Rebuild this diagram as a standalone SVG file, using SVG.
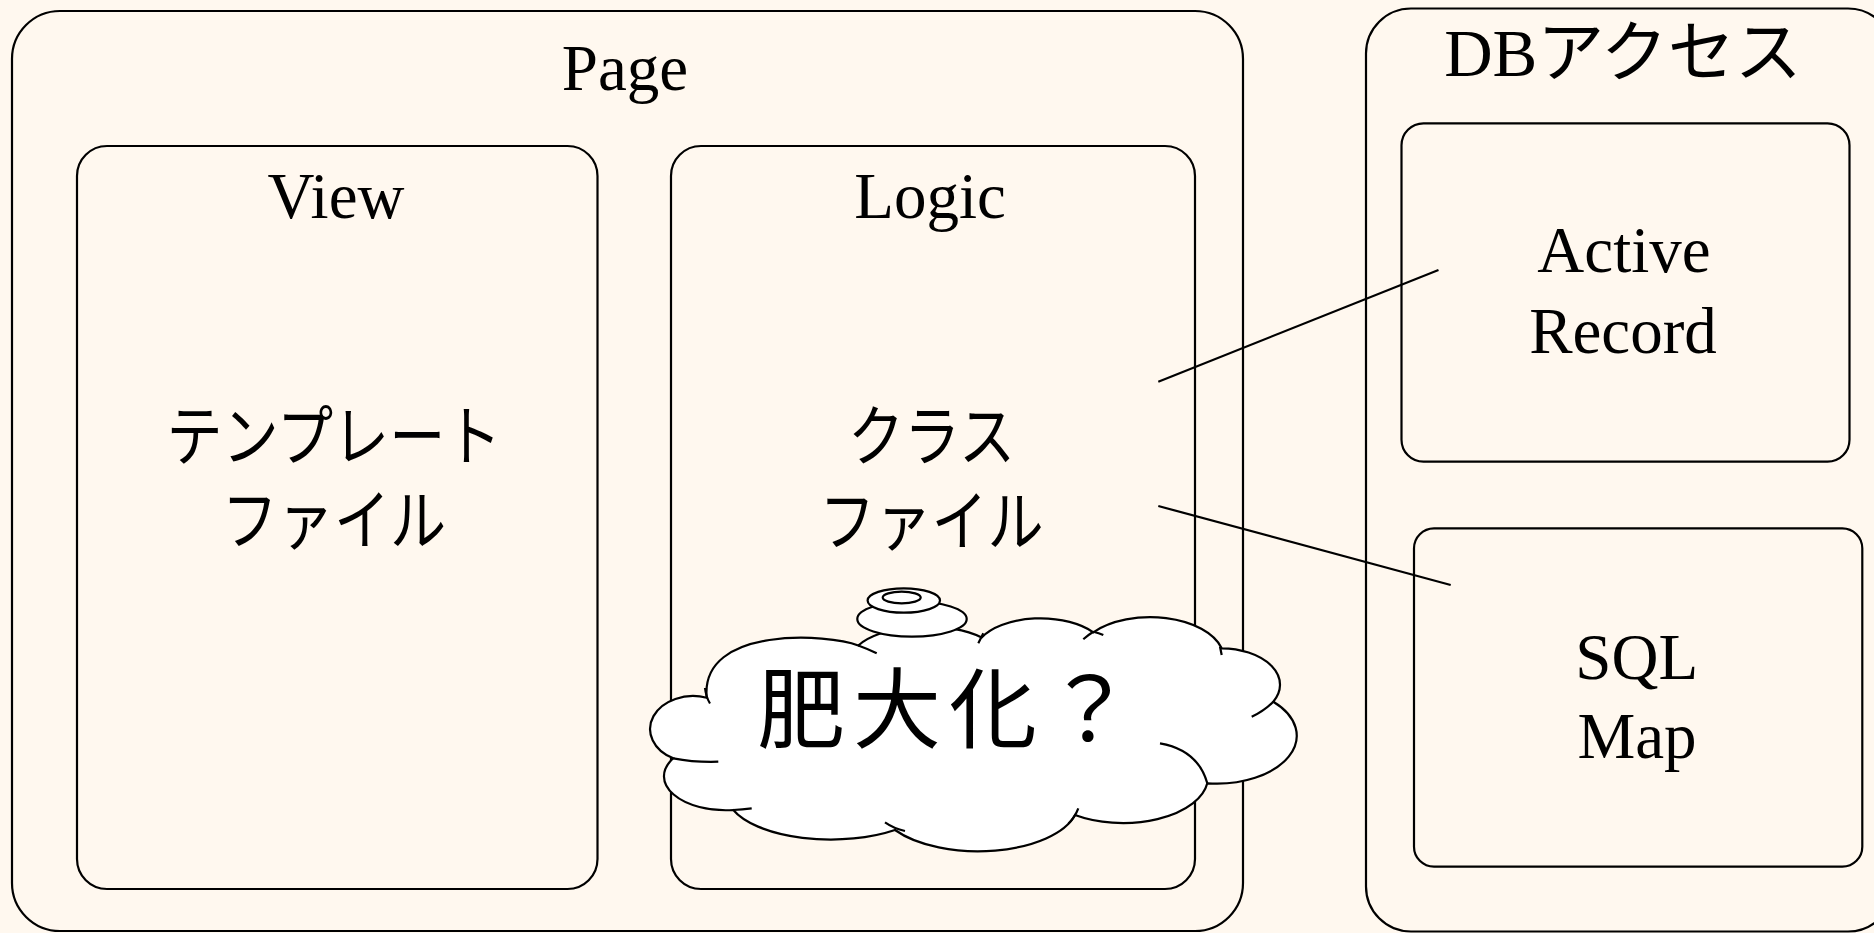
<svg xmlns="http://www.w3.org/2000/svg" width="1874" height="933" viewBox="0 0 1874 933">
<style>
.bg{fill:#FFF8EF}
.box{fill:#FFF8EF;stroke:#000;stroke-width:2.2}
.lbl{font-family:"Liberation Serif","Noto Sans CJK JP",serif;font-size:65px;fill:#000;text-anchor:middle}
.jp{font-family:"Noto Sans CJK JP",sans-serif;font-size:66px;fill:#000;text-anchor:middle}
.conn{fill:none;stroke:#000;stroke-width:2.2}
.cl{fill:#fff;stroke:#000;stroke-width:2.2}
.cli{fill:none;stroke:#000;stroke-width:2.2}
.big{font-family:"Noto Sans CJK JP",sans-serif;font-size:88px;fill:#000}
</style>
<rect class="bg" x="0" y="0" width="1874" height="933"/>
<g id="page">
<rect class="box" x="12" y="11" width="1231" height="920" rx="48" ry="48"/>
<text class="lbl" x="625" y="90">Page</text>
</g>
<g id="view">
<rect class="box" x="77" y="146" width="520.5" height="743" rx="30" ry="30"/>
<text class="lbl" x="336" y="218">View</text>
<text class="jp" transform="scale(0.85,1)"><tspan x="392.9" y="460">テンプレート</tspan><tspan x="392.9" y="544">ファイル</tspan></text>
</g>
<g id="logic">
<rect class="box" x="671" y="146" width="524" height="743" rx="30" ry="30"/>
<text class="lbl" x="930" y="218">Logic</text>
<text class="jp" transform="scale(0.85,1)"><tspan x="1095.9" y="460">クラス</tspan><tspan x="1095.9" y="545">ファイル</tspan></text>
</g>
<g id="db-access">
<rect class="box" x="1366" y="8.5" width="527" height="923" rx="45" ry="45"/>
<text class="lbl" x="1623" y="76" style="font-size:67px">DBアクセス</text>
</g>
<g id="active-record">
<rect class="box" x="1401.5" y="123.3" width="448" height="338.4" rx="22" ry="22"/>
<text class="lbl" x="1624" y="271.7">Active</text>
<text class="lbl" x="1623" y="353">Record</text>
</g>
<g id="sql-map">
<rect class="box" x="1414" y="528.3" width="448.3" height="338.4" rx="20" ry="20"/>
<text class="lbl" x="1636.7" y="679.3">SQL</text>
<text class="lbl" x="1637" y="758.3">Map</text>
</g>
<g id="connectors">
<line class="conn" x1="1158.3" y1="381.7" x2="1438.5" y2="270"/>
<line class="conn" x1="1158.3" y1="506" x2="1450.7" y2="585"/>
</g>
<g id="cloud">
<path class="cl" d="M706.7,697.7 A43,33 0 0 0 673.3,758.3 A62,34 0 0 0 733.3,810 A104,45 0 0 0 895,830 A100,48 0 0 0 1075,815 A85,46 0 0 0 1207.3,783.3 A80,48 0 0 0 1273.3,701.7 A59,36.5 0 0 0 1221.7,648.3 A74,42 0 0 0 1093.3,632.3 A66,35 0 0 0 981.7,637.5 A75,33 0 0 0 858.3,645.5 C830,634 700,625 706.7,697.7 Z"/>
<path class="cli" d="M705,688 Q706,697 710,703.5 M673.3,758.3 Q695,762.5 718.3,761.7 M733.3,810 Q742,809.5 751.7,808.3 M885,822.3 Q894,828.5 905,831 M1068.5,823.5 Q1075,817 1078.3,808.3 M1207.3,783.3 Q1198,750 1160,743.3 M1273.3,701.7 Q1264,711 1251.7,716.7 M1220,646.7 L1221.7,655 M1093.3,631.7 Q1088,635 1083.3,639.3 M1093.3,631.7 Q1099,633 1103.3,635 M978.3,643.3 L983.3,633.3 M858.3,645.5 Q868,649 876.7,653.3"/>
<ellipse class="cl" cx="912" cy="619" rx="54.7" ry="17.6"/>
<ellipse class="cl" cx="903.8" cy="600.5" rx="36.2" ry="12.2"/>
<ellipse class="cl" cx="901.7" cy="597.5" rx="19" ry="5.8"/>
<text class="big" x="757" y="741" textLength="376" lengthAdjust="spacing">肥大化？</text>
</g>
</svg>
